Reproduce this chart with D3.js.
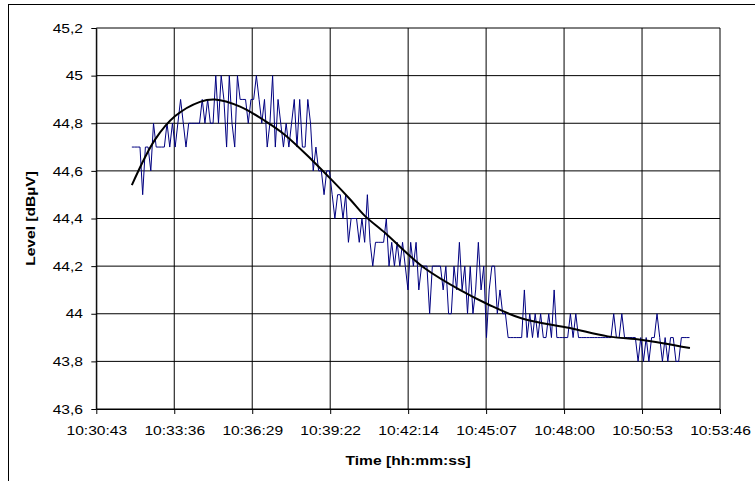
<!DOCTYPE html>
<html>
<head>
<meta charset="utf-8">
<script src="https://cdnjs.cloudflare.com/ajax/libs/d3/7.8.5/d3.min.js"></script>
<style>
    body { margin: 0; background: #fff; }
    svg { display: block; }
    text { font-family: "Liberation Sans", Arial, sans-serif; font-size: 13px; fill: #000; }
</style>
</head>
<body>
<svg id="chart" width="755" height="481"></svg>
<script>
// axis ticks (x in fraction of day, like the spreadsheet)
const xTicks = [0.438, 0.440, 0.442, 0.444, 0.446, 0.448, 0.450, 0.452, 0.454];
const yTicks = [43.6, 43.8, 44.0, 44.2, 44.4, 44.6, 44.8, 45.0, 45.2];

// measured level, one sample every 6 s starting 10:32:02
const sampleStart = '10:32:02';
const sampleStep = 6;
const levels = [
    44.7, 44.7, 44.7, 44.7, 44.5, 44.7, 44.7, 44.6, 44.8, 44.7,
    44.7, 44.7, 44.7, 44.8, 44.7, 44.8, 44.7, 44.8, 44.9, 44.8,
    44.7, 44.8, 44.8, 44.8, 44.8, 44.8, 44.9, 44.8, 44.9, 44.8,
    44.8, 45.0, 44.8, 45.0, 44.9, 44.7, 45.0, 44.8, 44.7, 45.0,
    44.9, 44.9, 44.9, 44.8, 44.9, 44.9, 45.0, 44.9, 44.8, 44.9,
    44.7, 44.8, 45.0, 44.7, 44.9, 44.8, 44.7, 44.8, 44.7, 44.8,
    44.9, 44.7, 44.9, 44.7, 44.7, 44.9, 44.8, 44.6, 44.7, 44.6,
    44.6, 44.5, 44.6, 44.6, 44.5, 44.4, 44.5, 44.5, 44.4, 44.5,
    44.3, 44.4, 44.4, 44.4, 44.3, 44.4, 44.3, 44.5, 44.3, 44.2,
    44.3, 44.3, 44.3, 44.3, 44.4, 44.2, 44.3, 44.2, 44.3, 44.2,
    44.3, 44.2, 44.1, 44.3, 44.2, 44.3, 44.1, 44.2, 44.2, 44.2,
    44.0, 44.2, 44.2, 44.2, 44.2, 44.1, 44.2, 44.0, 44.0, 44.2,
    44.1, 44.3, 44.1, 44.2, 44.0, 44.2, 44.0, 44.1, 44.3, 44.1,
    44.2, 43.9, 44.1, 44.2, 44.2, 44.0, 44.1, 44.0, 44.0, 43.9,
    43.9, 43.9, 43.9, 43.9, 43.9, 44.1, 43.9, 44.0, 43.9, 44.0,
    43.9, 44.0, 43.9, 43.9, 44.0, 43.9, 44.1, 43.9, 43.9, 43.9,
    43.9, 43.9, 44.0, 43.9, 44.0, 43.9, 43.9, 43.9, 43.9, 43.9,
    43.9, 43.9, 43.9, 43.9, 43.9, 43.9, 43.9, 43.9, 44.0, 43.9,
    43.9, 44.0, 43.9, 43.9, 43.9, 43.9, 43.9, 43.8, 43.9, 43.8,
    43.9, 43.8, 43.9, 43.9, 44.0, 43.9, 43.8, 43.9, 43.8, 43.9,
    43.9, 43.8, 43.8, 43.9, 43.9, 43.9, 43.9
];

// polynomial trend line
const trendTimes = ['10:32:02', '10:32:53', '10:33:38', '10:34:33', '10:35:06', '10:36:02',
    '10:36:57', '10:37:42', '10:38:41', '10:39:26', '10:40:06', '10:40:39', '10:41:23',
    '10:42:14', '10:42:52', '10:44:09', '10:45:11', '10:46:27', '10:48:13', '10:49:37',
    '10:50:53', '10:52:39'];
const trendValues = [44.54, 44.73, 44.83, 44.89, 44.90, 44.87, 44.81, 44.75, 44.646, 44.56,
    44.48, 44.41, 44.34, 44.25, 44.19, 44.10, 44.04, 43.98, 43.94, 43.905, 43.89, 43.856];

const toSec = s => {
    const p = s.split(':').map(Number);
    return p[0] * 3600 + p[1] * 60 + p[2];
};
const fmtTime = sec => {
    const r = Math.round(sec);
    const pad = n => String(n).padStart(2, '0');
    return `${pad(Math.floor(r / 3600))}:${pad(Math.floor(r / 60) % 60)}:${pad(r % 60)}`;
};

const svg = d3.select('#chart');
const plotLeft = 96.3, plotRight = 720, plotTop = 28, plotBottom = 409;
const stretch = 1.2;

const x = d3.scaleLinear()
    .domain([xTicks[0] * 86400, xTicks[xTicks.length - 1] * 86400])
    .range([plotLeft, plotRight]);
const y = d3.scaleLinear()
    .domain([yTicks[0], yTicks[yTicks.length - 1]])
    .range([plotBottom, plotTop]);

// outer chart frame (cropped on the right and bottom)
svg.append('rect')
    .attr('x', 8.5).attr('y', 4.5)
    .attr('width', 900).attr('height', 900)
    .attr('fill', 'none').attr('stroke', '#000');

// grid
svg.append('g').selectAll('line')
    .data(yTicks)
    .enter().append('line')
    .attr('x1', plotLeft).attr('x2', plotRight)
    .attr('y1', d => y(d)).attr('y2', d => y(d))
    .attr('stroke', '#000');
svg.append('g').selectAll('line')
    .data(xTicks)
    .enter().append('line')
    .attr('x1', d => x(d * 86400)).attr('x2', d => x(d * 86400))
    .attr('y1', plotTop).attr('y2', plotBottom)
    .attr('stroke', '#000');

// axes
const xAxis = svg.append('g')
    .attr('transform', `translate(0,${plotBottom})`)
    .call(d3.axisBottom(x)
        .tickValues(xTicks.map(d => d * 86400))
        .tickFormat(fmtTime)
        .tickSize(5).tickSizeOuter(0).tickPadding(12));
xAxis.selectAll('text')
    .attr('transform', `scale(${stretch},1)`);

const yAxis = svg.append('g')
    .attr('transform', `translate(${plotLeft},0)`)
    .call(d3.axisLeft(y)
        .tickValues(yTicks)
        .tickFormat(d => d3.format('.1f')(d).replace(/\.0$/, '').replace('.', ','))
        .tickSize(5).tickSizeOuter(0));
yAxis.selectAll('text')
    .attr('x', -13.3 / stretch)
    .attr('transform', `scale(${stretch},1)`);

svg.selectAll('.domain, .tick line').attr('stroke', '#000');
svg.selectAll('.tick text').style('font-size', '13px')
    .style('font-family', '"Liberation Sans", Arial, sans-serif');

// measured series
const series = levels.map((v, i) => ({t: toSec(sampleStart) + i * sampleStep, v: v}));
svg.append('path')
    .datum(series)
    .attr('fill', 'none')
    .attr('stroke', '#000080')
    .attr('stroke-width', 1)
    .attr('d', d3.line().x(d => x(d.t)).y(d => y(d.v)));

// trend
const trend = trendTimes.map((t, i) => ({t: toSec(t), v: trendValues[i]}));
svg.append('path')
    .datum(trend)
    .attr('fill', 'none')
    .attr('stroke', '#000')
    .attr('stroke-width', 2)
    .attr('d', d3.line().curve(d3.curveCatmullRom).x(d => x(d.t)).y(d => y(d.v)));

// axis titles
svg.append('text')
    .attr('transform', `translate(${(plotLeft + plotRight) / 2},465) scale(${stretch},1)`)
    .attr('text-anchor', 'middle')
    .attr('font-weight', 'bold')
    .text('Time [hh:mm:ss]');

svg.append('text')
    .attr('transform', `translate(35,${(plotTop + plotBottom) / 2}) rotate(-90) scale(${stretch},1)`)
    .attr('text-anchor', 'middle')
    .attr('font-weight', 'bold')
    .text('Level [dBµV]');
</script>
</body>
</html>
